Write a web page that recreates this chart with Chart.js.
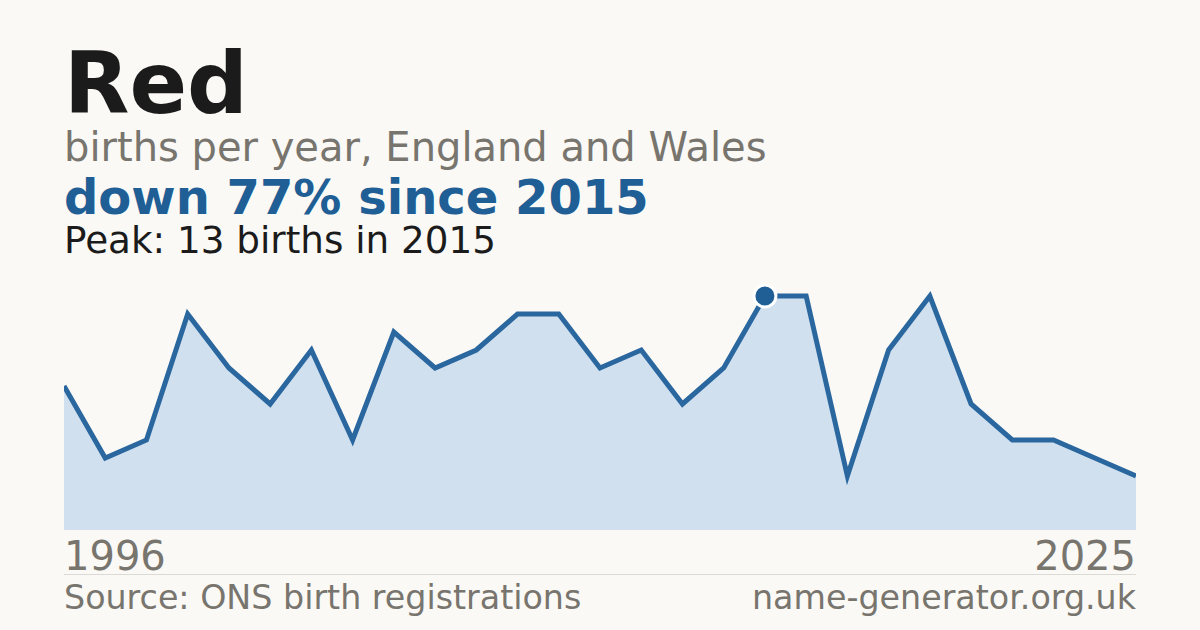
<!DOCTYPE html>
<html>
<head>
<meta charset="utf-8">
<script src="https://cdn.jsdelivr.net/npm/chart.js@4"></script>
<style>
  html, body { margin: 0; padding: 0; }
  body { width: 1200px; height: 630px; background: #faf9f5; position: relative; overflow: hidden;
         font-family: "DejaVu Sans", sans-serif; }
  .t { position: absolute; left: 64px; line-height: 1; white-space: nowrap; }
  #name { top: 41px; font-size: 85px; font-weight: bold; color: #1b1b1b; }
  #sub { top: 127px; font-size: 40px; color: #78746e; }
  #change { top: 173px; font-size: 48px; font-weight: bold; color: #1f5f96; }
  #peak { top: 222px; font-size: 37.3px; color: #1b1b1b; }
  .yr { top: 536px; font-size: 40px; color: #78746e; }
  #yEnd { left: auto; right: 64px; }
  #rule { position: absolute; left: 64px; top: 574px; width: 1072px; height: 1px; background: #dcdad4; }
  .ft { top: 581px; font-size: 33.3px; color: #78746e; }
  #site { left: auto; right: 64px; }
  #wrap { position: absolute; left: 64px; top: 278px; width: 1072px; height: 252px; }
</style>
</head>
<body>
<div class="t" id="name">Red</div>
<div class="t" id="sub">births per year, England and Wales</div>
<div class="t" id="change">down 77% since 2015</div>
<div class="t" id="peak">Peak: 13 births in 2015</div>
<div id="wrap"><canvas id="chart"></canvas></div>
<div class="t yr" id="yStart">1996</div>
<div class="t yr" id="yEnd">2025</div>
<div id="rule"></div>
<div class="t ft" id="source">Source: ONS birth registrations</div>
<div class="t ft" id="site">name-generator.org.uk</div>

<script>
const years = [1996, 1997, 1998, 2000, 2001, 2002, 2003, 2004, 2005, 2007, 2008, 2009, 2010, 2011,
               2012, 2013, 2014, 2015, 2016, 2017, 2018, 2019, 2021, 2022, 2023, 2024, 2025];
const births = [8, 4, 5, 12, 9, 7, 10, 5, 11, 9, 10, 12, 12, 9, 10, 7, 9, 13, 13, 3, 10, 13, 7, 5, 5, 4, 3];
const peakYear = 2015;

const peakIndex = years.indexOf(peakYear);

const ctx = document.getElementById('chart').getContext('2d');
const birthsChart = new Chart(ctx, {
    type: 'line',
    data: {
        labels: years.map(String),
        datasets: [{
            data: births,
            borderColor: '#2b679f',
            borderWidth: 5,
            backgroundColor: '#d0e0ef',
            fill: 'origin',
            tension: 0,
            pointRadius: (c) => c.dataIndex === peakIndex ? 11 : 0,
            pointHoverRadius: 0,
            pointBackgroundColor: '#1f5f96',
            pointBorderColor: '#ffffff',
            pointBorderWidth: 3
        }]
    },
    options: {
        responsive: true,
        maintainAspectRatio: false,
        animation: false,
        clip: false,
        layout: { padding: 0 },
        plugins: { legend: { display: false }, tooltip: { enabled: false } },
        scales: {
            x: { display: false, offset: false },
            y: { display: false, min: 0, max: 14 }
        }
    }
});
</script>
</body>
</html>
